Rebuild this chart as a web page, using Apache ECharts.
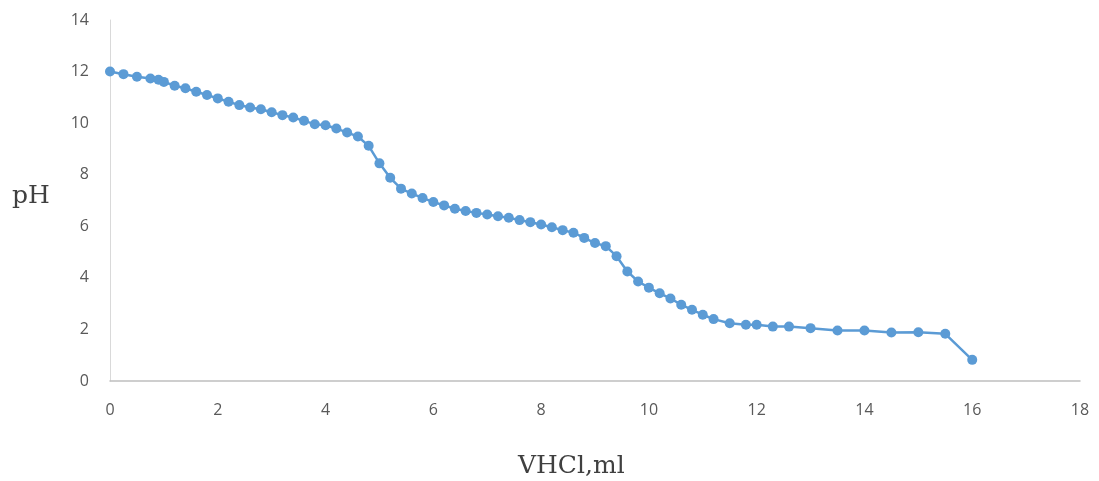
<!DOCTYPE html>
<html>
<head>
<meta charset="utf-8">
<script src="https://cdn.jsdelivr.net/npm/echarts@6/dist/echarts.min.js"></script>
<style>html,body{margin:0;padding:0;background:#fff;}#c{width:1099px;height:481px;}</style>
</head>
<body>
<div id="c"></div>
<script>
const volumes = [0, 0.25, 0.5, 0.75, 0.9, 1.0, 1.2, 1.4, 1.6, 1.8, 2.0, 2.2, 2.4, 2.6, 2.8, 3.0, 3.2, 3.4, 3.6, 3.8, 4.0, 4.2, 4.4, 4.6, 4.8, 5.0, 5.2, 5.4, 5.6, 5.8, 6.0, 6.2, 6.4, 6.6, 6.8, 7.0, 7.2, 7.4, 7.6, 7.8, 8.0, 8.2, 8.4, 8.6, 8.8, 9.0, 9.2, 9.4, 9.6, 9.8, 10.0, 10.2, 10.4, 10.6, 10.8, 11.0, 11.2, 11.5, 11.8, 12.0, 12.3, 12.6, 13.0, 13.5, 14.0, 14.5, 15.0, 15.5, 16.0];
const phValues = [12.0, 11.9, 11.8, 11.73, 11.68, 11.6, 11.45, 11.35, 11.22, 11.09, 10.96, 10.83, 10.7, 10.61, 10.54, 10.42, 10.31, 10.22, 10.09, 9.96, 9.92, 9.79, 9.64, 9.48, 9.12, 8.44, 7.88, 7.46, 7.27, 7.1, 6.94, 6.81, 6.68, 6.59, 6.52, 6.46, 6.39, 6.33, 6.24, 6.16, 6.07, 5.96, 5.85, 5.75, 5.55, 5.35, 5.23, 4.84, 4.25, 3.86, 3.62, 3.4, 3.2, 2.96, 2.76, 2.57, 2.4, 2.24, 2.18, 2.18, 2.11, 2.11, 2.05, 1.96, 1.96, 1.88, 1.89, 1.83, 0.82];
const xTitle = 'VHCl,ml';
const yTitle = 'pH';

const labelFont = { fontFamily: 'Open Sans', fontSize: 16, color: '#595959' };
const titleFont = { fontFamily: 'DejaVu Serif', fontSize: 25, fill: '#404040' };

const chart = echarts.init(document.getElementById('c'));
chart.setOption({
  backgroundColor: '#fff',
  animation: false,
  grid: { left: 110, right: 19, top: 20, bottom: 100 },
  xAxis: {
    type: 'value', min: 0, max: 18, interval: 2,
    axisLine: { show: true, lineStyle: { color: '#bfbfbf', width: 1.5 } },
    axisTick: { show: false },
    splitLine: { show: false },
    axisLabel: Object.assign({ margin: 21 }, labelFont)
  },
  yAxis: {
    type: 'value', min: 0, max: 14, interval: 2,
    axisLine: { show: true, lineStyle: { color: '#d9d9d9', width: 1 } },
    axisTick: { show: false },
    splitLine: { show: false },
    axisLabel: Object.assign({ margin: 21 }, labelFont)
  },
  graphic: [
    { type: 'text', left: 518, top: 454, style: Object.assign({ text: xTitle }, titleFont) },
    { type: 'text', left: 12, top: 184, style: Object.assign({ text: yTitle }, titleFont) }
  ],
  series: [{
    type: 'line',
    data: volumes.map((v, i) => [v, phValues[i]]),
    symbol: 'circle', symbolSize: 10, showAllSymbol: true,
    lineStyle: { color: '#5B9BD5', width: 2.5 },
    itemStyle: { color: '#5B9BD5' }
  }]
});
</script>
</body>
</html>
